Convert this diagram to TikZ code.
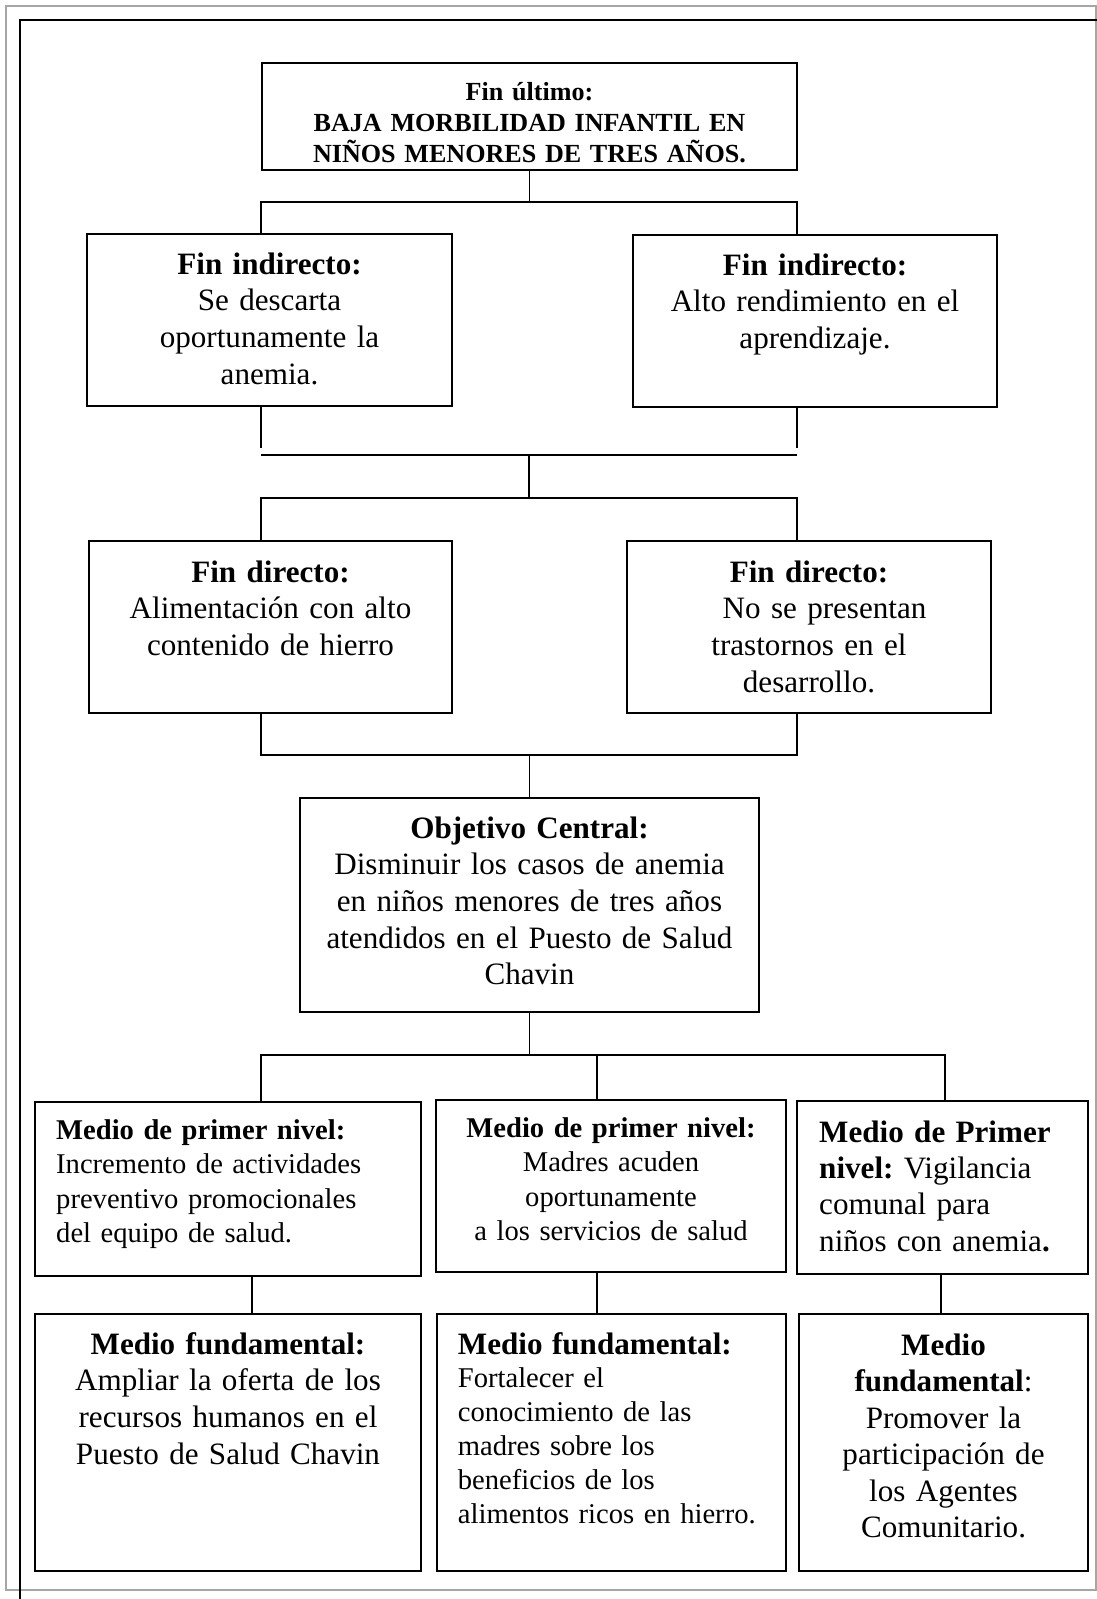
\documentclass[tikz,border=0pt]{standalone}
\usepackage{fontspec}
\setmainfont{Liberation Serif}
\usetikzlibrary{positioning,calc}
\frenchspacing

\begin{document}
\begin{tikzpicture}[x=1pt,y=-1pt,
  box/.style={draw,line width=2pt,inner sep=0pt,outer sep=0pt},
  conn/.style={line width=1.6pt},
  txt/.style={inner sep=0pt,anchor=base,align=center},
  txtl/.style={inner sep=0pt,anchor=base west,align=left},
  big/.style={font=\fontsize{31.1}{36.7}\selectfont},
  mid/.style={font=\fontsize{28.6}{34.5}\selectfont},
  small/.style={font=\bfseries\fontsize{26.1}{31}\selectfont}]
\useasboundingbox (0,0) rectangle (1097,1599);
% marco
\draw[line width=2pt,color=gray!70] (6,6) rectangle (1096,1590);
\draw[line width=2pt] (1097,20) -- (20,20) -- (20,1599);

% fines
\node[box,minimum width=535,minimum height=107] (fu) at (529.5,116.5) {};
\node[txt,small,text width=520] (fu-t) at (529.5,100) {Fin último:\\BAJA MORBILIDAD INFANTIL EN\\NIÑOS MENORES DE TRES AÑOS.};

\node[box,minimum width=365,minimum height=172] (fi1) at (269.5,320) {};
\node[txt,big,text width=350] (fi1-t) at (269.5,274) {\textbf{Fin indirecto:}\\Se descarta\\oportunamente la\\anemia.};
\node[box,minimum width=364,minimum height=172] (fi2) at (815,321) {};
\node[txt,big,text width=350] (fi2-t) at (815,275) {\textbf{Fin indirecto:}\\Alto rendimiento en el\\aprendizaje.};

\node[box,minimum width=363,minimum height=172] (fd1) at (270.5,627) {};
\node[txt,big,text width=350] (fd1-t) at (270.5,582) {\textbf{Fin directo:}\\Alimentación con alto\\contenido de hierro};
\node[box,minimum width=364,minimum height=172] (fd2) at (809,627) {};
\node[txt,big,text width=350] (fd2-t) at (809,582) {\textbf{Fin directo:}\\\hspace*{1em}No se presentan\\trastornos en el\\desarrollo.};

% objetivo
\node[box,minimum width=459,minimum height=214] (oc) at (529.5,905) {};
\node[txt,big,text width=445] (oc-t) at (529.5,838) {\textbf{Objetivo Central:}\\Disminuir los casos de anemia\\en niños menores de tres años\\atendidos en el Puesto de Salud\\Chavin};

% medios
\node[box,minimum width=386,minimum height=174] (m1) at (228,1189) {};
\node[txtl,mid,text width=360] (m1-t) at (56,1139) {\textbf{Medio de primer nivel:}\\Incremento de actividades\\preventivo promocionales\\del equipo de salud.};
\node[box,minimum width=350,minimum height=172] (m2) at (611,1186) {};
\node[txt,mid,text width=340] (m2-t) at (611,1137) {\textbf{Medio de primer nivel:}\\Madres acuden\\oportunamente\\a los servicios de salud};
\node[box,minimum width=291,minimum height=173] (m3) at (942.5,1187.5) {};
\node[txtl,font=\fontsize{31.1}{36.4}\selectfont,text width=265] (m3-t) at (819,1142) {\textbf{Medio de Primer}\\\textbf{nivel:} Vigilancia\\comunal para\\niños con anemia\textbf{.}};

\node[box,minimum width=386,minimum height=257] (mf1) at (228,1442.5) {};
\node[txt,big,text width=375] (mf1-t) at (228,1354) {\textbf{Medio fundamental:}\\Ampliar la oferta de los\\recursos humanos en el\\Puesto de Salud Chavin};
\node[box,minimum width=349,minimum height=257] (mf2) at (611.5,1442.5) {};
\node[txtl,font=\fontsize{28.6}{33.9}\selectfont,text width=320] (mf2-t) at (457.7,1354) {{\bfseries\fontsize{31.1}{36.7}\selectfont Medio fundamental:}\\Fortalecer el\\conocimiento de las\\madres sobre los\\beneficios de los\\alimentos ricos en hierro.};
\node[box,minimum width=289,minimum height=257] (mf3) at (943.5,1442.5) {};
\node[txt,font=\fontsize{31.1}{36.5}\selectfont,text width=280] (mf3-t) at (943.5,1355) {\textbf{Medio}\\\textbf{fundamental}:\\Promover la\\participación de\\los Agentes\\Comunitario.};

% conectores
\coordinate (a1) at (261,202);
\coordinate (a2) at (797,202);
\draw[conn] (fu.south) -- (fu.south |- a1);
\draw[conn] (a1 |- fi1.north) -- (a1) -- (a2) -- (a2 |- fi2.north);

\coordinate (b1) at (261,448);
\coordinate (b2) at (797,448);
\draw[conn] (b1 |- fi1.south) -- (b1);
\draw[conn] (b2 |- fi2.south) -- (b2);
\coordinate (c1) at (261,455);
\coordinate (c2) at (797,455);
\coordinate (c0) at (529,455);
\draw[line width=2pt] (c1) -- (c2);
\coordinate (d1) at (261,498);
\coordinate (d2) at (797,498);
\draw[conn] (c0) -- (c0 |- d1);
\draw[conn] (d1 |- fd1.north) -- (d1) -- (d2) -- (d2 |- fd2.north);

\coordinate (e1) at (261,755);
\coordinate (e2) at (797,755);
\draw[conn] (e1 |- fd1.south) -- (e1) -- (e2) -- (e2 |- fd2.south);
\draw[conn] (oc.north) -- (oc.north |- e1);

\coordinate (f1) at (261,1055);
\coordinate (f2) at (597,1055);
\coordinate (f3) at (945,1055);
\draw[conn] (oc.south) -- (oc.south |- f1);
\draw[conn] (f1 |- m1.north) -- (f1) -- (f3) -- (f3 |- m3.north);
\draw[conn] (f2) -- (f2 |- m2.north);

\coordinate (g1) at (252,1314);
\coordinate (g2) at (597,1314);
\coordinate (g3) at (941,1314);
\draw[conn] (g1 |- m1.south) -- (g1 |- mf1.north);
\draw[conn] (g2 |- m2.south) -- (g2 |- mf2.north);
\draw[conn] (g3 |- m3.south) -- (g3 |- mf3.north);
\end{tikzpicture}
\end{document}
